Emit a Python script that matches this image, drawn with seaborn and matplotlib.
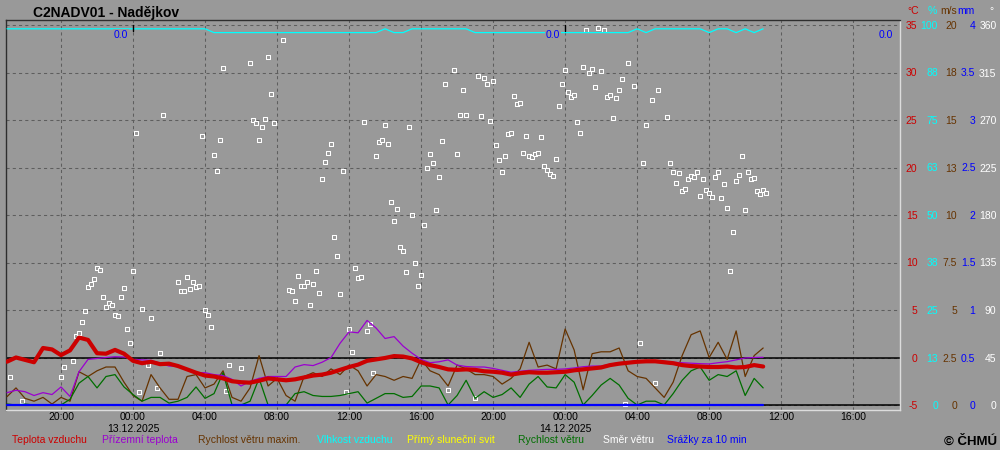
import matplotlib
matplotlib.use("Agg")
import matplotlib.pyplot as plt
import matplotlib.dates as mdates
import matplotlib.ticker as mticker
import pandas as pd
import seaborn as sns

sns.set_style("white")
plt.rcParams["font.family"] = ["Liberation Sans", "DejaVu Sans"]

# half-hour readings from 12.12.2025 17:00 to 14.12.2025 11:00
start = pd.Timestamp("2025-12-12 17:00")
times = pd.date_range(start, periods=85, freq="30min")

temp = [-0.44, 0.0, -0.25, -0.5, 1.0, 0.85, 0.25, 0.75, 2.1, 1.85,
        0.45, 0.4, 0.8, 0.4, -0.35, -0.6, -0.45, -0.7, -0.65, -0.9,
        -1.25, -1.6, -1.9, -2.0, -2.2, -2.5, -2.6, -2.65, -2.45, -2.2,
        -2.3, -2.4, -2.3, -2.1, -1.9, -1.8, -1.6, -1.3, -1.0, -0.75,
        -0.35, -0.2, -0.05, 0.15, 0.1, -0.1, -0.5, -0.8, -1.0, -1.25,
        -1.3, -1.25, -1.3, -1.45, -1.5, -1.6, -1.8, -1.65, -1.55, -1.6,
        -1.6, -1.55, -1.5, -1.35, -1.25, -1.15, -1.05, -0.8, -0.65, -0.55,
        -0.45, -0.4, -0.4, -0.5, -0.6, -0.8, -0.9, -0.95, -1.0, -1.0,
        -0.95, -1.05, -1.0, -0.8, -0.95]

ground_temp = [-3.7, -3.45, -3.6, -4.0, -3.7, -3.9, -3.1, -4.1, -1.5, -0.2,
               -0.1, 0.0, 0.08, 0.05, -0.2, -0.25, -0.3, -0.6, -0.9, -0.9,
               -1.2, -1.6, -1.6, -1.8, -1.9, -2.3, -3.0, -2.5, -2.2, -2.0,
               -2.0, -2.0, -1.0, -0.75, -0.85, -0.5, 0.0, 1.5, 2.7, 2.6,
               3.9, 3.1, 2.0, 2.2, 1.2, 0.45, -0.2, -0.55, -0.45, -0.25,
               -0.8, -0.95, -1.0, -1.0, -1.15, -1.35, -1.55, -1.45, -1.35, -1.3,
               -1.25, -1.25, -1.2, -1.1, -0.97, -0.9, -0.9, -0.7, -0.55, -0.45,
               -0.35, -0.35, -0.35, -0.4, -0.5, -0.55, -0.6, -0.65, -0.68, -0.55,
               -0.44, -0.25, -0.05, 0.0, 0.02]

gust = [0.44, 0.9, 0.35, 0.2, 0.4, 0.05, 0.4, 0.2, 1.75, 1.5,
        1.8, 2.0, 2.0, 1.2, 0.5, 0.2, 1.6, 0.9, 0.3, 0.3,
        1.5, 1.6, 0.9, 1.1, 1.8, 0.4, 0.2, 0.9, 2.6, 1.0,
        1.4, 0.5, 0.2, 1.5, 1.7, 1.5, 1.9, 1.6, 2.1, 1.8,
        1.0, 1.6, 1.5, 1.3, 1.5, 1.4, 2.4, 1.8, 1.6, 1.0,
        2.1, 1.9, 1.6, 1.6, 1.5, 1.1, 1.4, 1.9, 3.3, 2.0,
        2.1, 1.9, 4.0, 2.9, 0.8, 2.7, 2.8, 2.8, 3.0, 1.8,
        1.5, 1.4, 0.9, 0.4, 1.2, 2.6, 3.7, 3.9, 2.5, 3.3,
        2.4, 3.9, 1.5, 2.6, 3.0]

wind = [0.05, 0.0, 0.05, 0.0, 0.0, 0.0, 0.0, 0.3, 1.15, 1.5,
        0.9, 1.5, 1.6, 0.95, 0.55, 0.2, 0.4, 0.4, 0.1, 0.2,
        0.4, 0.95, 0.35, 0.6, 1.7, 0.0, 0.0, 0.2, 1.4, 0.0,
        0.0, 0.0, 0.6, 0.7, 0.5, 0.45, 0.45, 0.5, 0.6, 0.7,
        0.1, 0.35, 0.6, 0.6, 0.4, 0.45, 1.0, 1.0, 0.9, 0.0,
        0.5, 1.3, 0.35, 0.7, 0.4, 0.55, 0.9, 0.4, 1.1, 1.5,
        0.95, 0.9, 1.6, 1.2, 0.0, 0.5, 1.05, 1.4, 1.05, 0.35,
        0.0, 0.2, 0.2, 0.0, 0.6, 1.3, 1.8, 2.0, 1.3, 1.6,
        1.5, 1.8, 0.5, 1.4, 0.9]

humidity = [99, 99, 99, 99, 99, 99, 99, 99, 99, 99,
            99, 99, 99, 99, 99, 99, 99, 99, 99, 99,
            99, 99, 99, 98, 98, 98, 98, 98, 98, 98,
            98, 98, 98, 98, 98, 98, 98, 98, 98, 98,
            98, 98, 99, 98, 98, 99, 99, 99, 99, 99,
            99, 99, 98, 98, 98, 98, 98, 98, 98, 98,
            98, 98, 98, 98, 98, 98, 98, 98, 98, 98,
            99, 98, 99, 99, 99, 99, 99, 99, 98, 99,
            99, 98, 99, 98, 99]

precip = [0.0, 0.0, 0.0, 0.0, 0.0, 0.0, 0.0, 0.0, 0.0, 0.0,
          0.0, 0.0, 0.0, 0.0, 0.0, 0.0, 0.0, 0.0, 0.0, 0.0,
          0.0, 0.0, 0.0, 0.0, 0.0, 0.0, 0.0, 0.0, 0.0, 0.0,
          0.0, 0.0, 0.0, 0.0, 0.0, 0.0, 0.0, 0.0, 0.0, 0.0,
          0.0, 0.0, 0.0, 0.0, 0.0, 0.0, 0.0, 0.0, 0.0, 0.0,
          0.0, 0.0, 0.0, 0.0, 0.0, 0.0, 0.0, 0.0, 0.0, 0.0,
          0.0, 0.0, 0.0, 0.0, 0.0, 0.0, 0.0, 0.0, 0.0, 0.0,
          0.0, 0.0, 0.0, 0.0, 0.0, 0.0, 0.0, 0.0, 0.0, 0.0,
          0.0, 0.0, 0.0, 0.0, 0.0]

# wind direction: minutes after 12.12. 17:00, degrees
dir_min = [10, 50, 180, 190, 220, 230, 240, 250, 260, 270, 280, 290, 300, 310, 320, 330, 340, 350,
           360, 370, 380, 390, 400, 410, 420, 430, 440, 450, 470, 480, 500, 510, 520, 570, 580, 590,
           600, 610, 620, 630, 640, 650, 660, 670, 680, 690, 700, 710, 720, 730, 740, 780, 810, 820,
           830, 840, 850, 860, 870, 880, 890, 920, 940, 950, 960, 970, 980, 990, 1000, 1010, 1020, 1030,
           1040, 1050, 1060, 1070, 1080, 1090, 1100, 1110, 1120, 1130, 1140, 1150, 1160, 1170, 1180, 1190,
           1200, 1210, 1220, 1230, 1240, 1250, 1260, 1270, 1280, 1290, 1300, 1310, 1320, 1330, 1340, 1350,
           1360, 1370, 1380, 1390, 1400, 1410, 1420, 1430, 1440, 1450, 1460, 1470, 1490, 1500, 1510, 1520,
           1530, 1560, 1570, 1580, 1590, 1600, 1610, 1620, 1630, 1640, 1650, 1660, 1670, 1680, 1690, 1700,
           1710, 1720, 1730, 1740, 1750, 1760, 1770, 1780, 1790, 1800, 1810, 1820, 1830, 1840, 1850, 1860,
           1870, 1880, 1890, 1900, 1910, 1920, 1930, 1940, 1950, 1960, 1970, 1980, 1990, 2000, 2010, 2020,
           2030, 2040, 2050, 2060, 2070, 2090, 2110, 2120, 2130, 2150, 2160, 2170, 2200, 2210, 2220, 2230,
           2240, 2250, 2260, 2270, 2280, 2290, 2300, 2310, 2320, 2330, 2340, 2350, 2360, 2370, 2380, 2390,
           2400, 2410, 2420, 2430, 2440, 2450, 2460, 2470, 2480, 2490, 2500, 2510, 2520, 2530]
dir_deg = [27, 4, 27, 36, 42, 65, 68, 79, 89, 112, 115, 119, 130, 128, 102, 93, 97, 95,
           85, 84, 102, 111, 72, 59, 127, 258, 12, 91, 38, 82, 16, 49, 275, 117, 108, 108,
           121, 110, 117, 112, 113, 255, 90, 85, 74, 237, 222, 251, 319, 13, 38, 35, 324, 270,
           267, 251, 263, 271, 330, 295, 267, 346, 109, 108, 99, 122, 113, 113, 117, 95, 115, 127,
           106, 214, 230, 239, 247, 159, 141, 105, 222, 12, 72, 50, 130, 120, 121, 268,
           70, 77, 30, 236, 249, 251, 265, 247, 192, 174, 186, 150, 146, 126, 263, 180,
           135, 113, 123, 171, 225, 238, 229, 185, 216, 250, 304, 14, 317, 238, 275, 298,
           275, 7, 312, 274, 310, 304, 269, 307, 246, 232, 221, 236, 257, 258, 293, 285,
           286, 239, 255, 236, 235, 238, 239, 254, 226, 223, 219, 217, 233, 283, 304, 317,
           297, 292, 294, 268, 258, 320, 355, 315, 318, 301, 357, 316, 355, 292, 294, 272,
           291, 298, 309, 1, 324, 302, 59, 229, 265, 289, 21, 298, 273, 229, 221, 210,
           220, 203, 205, 214, 217, 216, 221, 198, 214, 204, 201, 197, 216, 221, 196, 209,
           187, 127, 164, 212, 218, 236, 185, 221, 214, 215, 203, 200, 204, 201]
dir_times = start + pd.to_timedelta(dir_min, unit="min")

# daily precipitation sums shown at the top
day_ends = [pd.Timestamp("2025-12-13 00:00"), pd.Timestamp("2025-12-14 00:00")]
day_totals = ["0.0", "0.0", "0.0"]

temp_ticks = [-5, 0, 5, 10, 15, 20, 25, 30, 35]
temp_labels = ["-5", "0", "5", "10", "15", "20", "25", "30", "35"]
hum_ticks = [0, 12.5, 25, 37.5, 50, 62.5, 75, 87.5, 100]
hum_labels = ["0", "13", "25", "38", "50", "63", "75", "88", "100"]
wind_ticks = [0, 2.5, 5, 7.5, 10, 12.5, 15, 17.5, 20]
wind_labels = ["0", "2.5", "5", "7.5", "10", "13", "15", "18", "20"]
rain_ticks = [0, 0.5, 1, 1.5, 2, 2.5, 3, 3.5, 4]
rain_labels = ["0", "0.5", "1", "1.5", "2", "2.5", "3", "3.5", "4"]
dir_ticks = [0, 45, 90, 135, 180, 225, 270, 315, 360]
dir_labels = ["0", "45", "90", "135", "180", "225", "270", "315", "360"]

legend_items = ["Teplota vzduchu", "Přízemní teplota", "Rychlost větru maxim.", "Vlhkost vzduchu",
                "Přímý sluneční svit", "Rychlost větru", "Směr větru", "Srážky za 10 min"]

bg = "#999999"
c_temp = "#CC0000"
c_ground = "#9B00D0"
c_gust = "#663300"
c_hum = "#00FFFF"
c_sun = "#FFFF00"
c_wind = "#006E00"
c_dir = "white"
c_rain = "#0000FF"
legend_colors = [c_temp, c_ground, c_gust, c_hum, c_sun, c_wind, c_dir, c_rain]
legend_x = [12, 102, 198, 317, 407, 518, 603, 667]


def padded(lo, hi):
    m = (hi - lo) * 5 / 380
    return lo - m, hi + m


fig = plt.figure(figsize=(10, 4.5), dpi=100, facecolor=bg)
ax = fig.add_axes([5.5 / 1000, 1 - 410 / 450, 894.5 / 1000, 390 / 450])
ax.set_facecolor(bg)

ax_dir = ax.twinx()
ax_hum = ax.twinx()
ax_wind = ax.twinx()
ax_rain = ax.twinx()
ax_top = ax.twinx()

sns.scatterplot(x=dir_times, y=dir_deg, ax=ax_dir, marker="s", s=5, color=bg,
                edgecolor=c_dir, linewidth=0.75, legend=False)
sns.lineplot(x=times, y=humidity, ax=ax_hum, color=c_hum, linewidth=0.9)
sns.lineplot(x=times, y=gust, ax=ax_wind, color=c_gust, linewidth=0.9)
sns.lineplot(x=times, y=wind, ax=ax_wind, color=c_wind, linewidth=0.9)
sns.lineplot(x=times, y=precip, ax=ax_rain, color=c_rain, linewidth=1.6)
sns.lineplot(x=times, y=ground_temp, ax=ax_top, color=c_ground, linewidth=0.9)
sns.lineplot(x=times, y=temp, ax=ax_top, color=c_temp, linewidth=3.0)

x0 = pd.Timestamp("2025-12-12 16:55")
x1 = pd.Timestamp("2025-12-14 18:36")
ax.set_xlim(mdates.date2num(x0), mdates.date2num(x1))


def right_axis(a, lo, hi, ticks, labels, color, px):
    a.set_ylim(*padded(lo, hi))
    a.set_yticks(ticks, labels, ha="right", color=color, fontsize=7.5)
    a.yaxis.tick_right()
    a.tick_params(axis="y", length=0, pad=px * 0.72)
    a.set_ylabel("")
    a.set_xlabel("")


for a in [ax_dir, ax_hum, ax_wind, ax_rain, ax_top]:
    for s in a.spines.values():
        s.set_visible(False)

right_axis(ax_hum, 0, 100, hum_ticks, hum_labels, c_hum, 38)
right_axis(ax_wind, 0, 20, wind_ticks, wind_labels, c_gust, 57)
right_axis(ax_rain, 0, 4, rain_ticks, rain_labels, c_rain, 75.5)
right_axis(ax_dir, 0, 360, dir_ticks, dir_labels, c_dir, 96.5)
ax_top.set_ylim(*padded(-5, 35))
ax_top.set_yticks([])
ax_top.set_ylabel("")

right_axis(ax, -5, 35, temp_ticks, temp_labels, c_temp, 17.5)
ax.grid(True, axis="both", linestyle=(0, (3, 3)), color="#5E5E5E", linewidth=0.75)
ax.axhline(0, color="black", linewidth=1.1)
ax.axhline(-5, color="black", linewidth=1.1)

ax.spines["left"].set_color("#2E2E2E")
ax.spines["top"].set_color("#2E2E2E")
ax.spines["right"].set_color("#DCDCDC")
ax.spines["bottom"].set_color("#DCDCDC")
for s in ax.spines.values():
    s.set_linewidth(1.0)


def time_label(v, pos):
    d = mdates.num2date(v)
    s = d.strftime("%H:%M")
    if d.hour == 0:
        s += "\n" + d.strftime("%d.%m.%Y")
    return s


ax.xaxis.set_major_locator(mdates.HourLocator(byhour=[0, 4, 8, 12, 16, 20]))
ax.xaxis.set_minor_locator(mdates.HourLocator(byhour=[2, 6, 10, 14, 18, 22]))
ax.xaxis.set_major_formatter(mticker.FuncFormatter(time_label))
ax.tick_params(axis="x", which="both", direction="in", length=3.6, width=0.8,
               color="black", pad=1.5, labelsize=7.5, labelcolor="black")
ax.set_xlabel("")
locs = ax.xaxis.get_majorticklocs()
ticks = ax.xaxis.get_major_ticks(len(locs))
for t, loc in zip(ticks, locs):
    if mdates.num2date(loc).hour in (0, 12):
        t.tick1line.set_markersize(5.2)
        t.tick1line.set_markeredgewidth(2.3)

# day marks and daily sums at the top
for d in day_ends:
    ax_top.axvline(mdates.date2num(d), ymin=0.972, ymax=0.987, color="black", linewidth=1)
box = dict(facecolor=bg, edgecolor="none", pad=0.6)
for d, txt in zip(day_ends, day_totals[:2]):
    ax_top.annotate(txt, xy=(mdates.date2num(d), 0.9615), xycoords=("data", "axes fraction"),
                    xytext=(-3.5, 0), textcoords="offset points", ha="right", va="center",
                    color=c_rain, fontsize=7.5, bbox=box)
ax_top.annotate(day_totals[2], xy=(1.0, 0.9615), xycoords="axes fraction",
                xytext=(-5, 0), textcoords="offset points", ha="right", va="center",
                color=c_rain, fontsize=7.5, bbox=box)

fig.text(33 / 1000, 1 - 17 / 450, "C2NADV01 - Nadějkov", fontsize=10, fontweight="bold",
         color="black", va="baseline")

units = ["°C", "%", "m/s", "mm"]
unit_colors = [c_temp, c_hum, c_gust, c_rain]
unit_x = [919, 937, 957, 975]
for u, c, xx in zip(units, unit_colors, unit_x):
    fig.text(xx / 1000, 1 - 11 / 450, u, color=c, fontsize=7.5, ha="right", va="center")
fig.text(991 / 1000, 1 - 11 / 450, "°", color=c_dir, fontsize=7.5, ha="center", va="center")

for lab, c, xx in zip(legend_items, legend_colors, legend_x):
    fig.text(xx / 1000, 1 - 440 / 450, lab, color=c, fontsize=7.5, ha="left", va="center")
fig.text(997 / 1000, 1 - 445 / 450, "© ČHMÚ", fontsize=9.5, fontweight="bold",
         color="black", ha="right", va="baseline")

fig.savefig("out.png", dpi=100, facecolor=bg)
